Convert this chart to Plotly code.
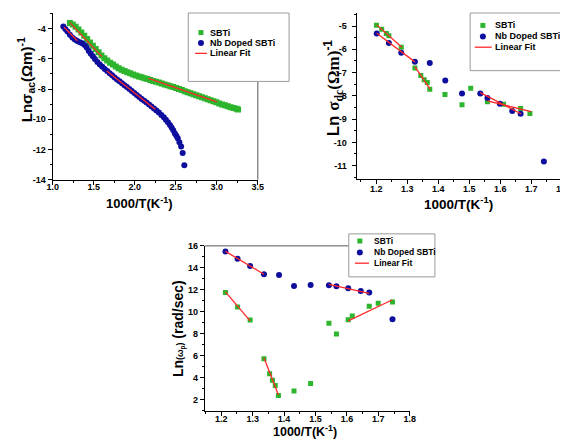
import plotly.graph_objects as go

W, H = 568, 440
FONT = "Liberation Sans"
GREEN = "#2db52d"
BLUE = "#0d0d9e"
RED = "#ff2a2a"

# ---------------- Top-left: ln sigma_ac vs 1000/T ----------------
ac_sbti_x = [1.21, 1.245, 1.28, 1.315, 1.35, 1.385, 1.42, 1.455, 1.49, 1.525, 1.56, 1.595,
             1.63, 1.665, 1.70, 1.735, 1.77, 1.805, 1.84, 1.875, 1.91, 1.945, 1.98, 2.015,
             2.05, 2.085, 2.12, 2.155, 2.19, 2.225, 2.26, 2.295, 2.33, 2.365, 2.40, 2.435,
             2.47, 2.505, 2.54, 2.575, 2.61, 2.645, 2.68, 2.715, 2.75, 2.785, 2.82, 2.855,
             2.89, 2.925, 2.96, 2.995, 3.03, 3.065, 3.10, 3.135, 3.17, 3.205, 3.24, 3.26]
ac_sbti_y = [-3.62, -3.72, -3.87, -4.05, -4.26, -4.47, -4.69, -4.91, -5.13, -5.35, -5.56, -5.77,
             -5.95, -6.11, -6.25, -6.38, -6.51, -6.62, -6.72, -6.81, -6.89, -6.96, -7.03, -7.10,
             -7.16, -7.22, -7.28, -7.34, -7.40, -7.46, -7.51, -7.57, -7.63, -7.69, -7.75, -7.81,
             -7.87, -7.93, -8.00, -8.07, -8.14, -8.21, -8.28, -8.35, -8.41, -8.48, -8.54, -8.61,
             -8.67, -8.74, -8.81, -8.88, -8.95, -9.02, -9.08, -9.14, -9.20, -9.26, -9.31, -9.35]
ac_nb_x = [1.13, 1.155, 1.18, 1.21, 1.24, 1.27, 1.30, 1.33, 1.36, 1.39, 1.415, 1.44, 1.465,
           1.49, 1.515, 1.545, 1.575, 1.605, 1.635, 1.665, 1.695, 1.725, 1.755, 1.785, 1.815,
           1.845, 1.875, 1.905, 1.935, 1.965, 1.995, 2.025, 2.055, 2.085, 2.115, 2.145, 2.175,
           2.205, 2.235, 2.265, 2.295, 2.325, 2.355, 2.38, 2.405, 2.43, 2.45, 2.47, 2.49,
           2.508, 2.525, 2.545, 2.566, 2.585, 2.605]
ac_nb_y = [-3.85, -4.02, -4.19, -4.40, -4.59, -4.72, -4.82, -4.89, -4.96, -5.08, -5.25, -5.47,
           -5.66, -5.83, -6.00, -6.20, -6.37, -6.52, -6.67, -6.81, -6.95, -7.09, -7.23, -7.36,
           -7.49, -7.62, -7.75, -7.87, -8.00, -8.13, -8.26, -8.40, -8.52, -8.65, -8.77, -8.89,
           -9.02, -9.15, -9.28, -9.42, -9.56, -9.71, -9.87, -10.03, -10.20, -10.38, -10.55,
           -10.73, -10.95, -11.10, -11.26, -11.52, -11.80, -12.23, -13.05]
ac_fit_x = [[1.21, 1.60], [2.17, 3.00], [1.14, 1.30], [1.66, 2.25]]
ac_fit_y = [[-3.60, -5.85], [-7.29, -8.85], [-3.90, -4.80], [-6.80, -9.33]]

# ---------------- Top-right: ln sigma_dc vs 1000/T ----------------
dc_sbti_x = [1.201, 1.218, 1.233, 1.241, 1.281, 1.325, 1.344, 1.355, 1.365, 1.373,
             1.422, 1.477, 1.505, 1.559, 1.611, 1.666, 1.696]
dc_sbti_y = [-4.97, -5.14, -5.32, -5.42, -5.91, -6.80, -7.13, -7.31, -7.43, -7.72,
             -7.94, -8.38, -7.67, -8.25, -8.36, -8.55, -8.76]
dc_nb_x = [1.202, 1.241, 1.281, 1.325, 1.373, 1.423, 1.477, 1.536, 1.559, 1.599, 1.639, 1.666, 1.741]
dc_nb_y = [-5.32, -5.73, -6.15, -6.54, -6.59, -7.34, -7.90, -7.90, -8.09, -8.34, -8.65, -8.77, -10.82]
dc_fit_x = [[1.202, 1.283], [1.202, 1.325], [1.325, 1.374], [1.536, 1.668], [1.559, 1.700]]
dc_fit_y = [[-4.95, -5.91], [-5.31, -6.54], [-6.75, -7.71], [-7.86, -8.78], [-8.22, -8.68]]

# ---------------- Bottom: ln(omega_p) vs 1000/T ----------------
wp_sbti_x = [1.2135, 1.252, 1.292, 1.336, 1.354, 1.363, 1.372, 1.382, 1.4316, 1.4845,
             1.5427, 1.5666, 1.604, 1.617, 1.671, 1.6995, 1.745]
wp_sbti_y = [11.76, 10.45, 9.26, 5.73, 4.37, 3.77, 3.30, 2.38, 2.80, 3.48,
             8.97, 7.99, 9.29, 9.62, 10.51, 10.78, 10.90]
wp_nb_x = [1.2135, 1.252, 1.292, 1.336, 1.384, 1.4316, 1.4845, 1.5427, 1.5666, 1.604, 1.644, 1.671, 1.745]
wp_nb_y = [15.50, 14.84, 14.16, 13.42, 13.36, 12.35, 12.44, 12.41, 12.32, 12.14, 11.90, 11.76, 9.32]
wp_fit_x = [[1.2135, 1.336], [1.5427, 1.671], [1.2135, 1.292], [1.336, 1.382], [1.604, 1.745]]
wp_fit_y = [[15.50, 13.42], [12.50, 11.68], [11.82, 9.18], [5.82, 2.44], [9.18, 11.10]]

# tick labels
ac_yticks = [-4, -6, -8, -10, -12, -14]
ac_xticks = [1.0, 1.5, 2.0, 2.5, 3.0, 3.5]
dc_yticks = [-5, -6, -7, -8, -9, -10, -11]
dc_xticks = [1.2, 1.3, 1.4, 1.5, 1.6, 1.7, 1.8]
wp_yticks = [2, 4, 6, 8, 10, 12, 14, 16]
wp_xticks = [1.2, 1.3, 1.4, 1.5, 1.6, 1.7, 1.8]

legend_labels = ["SBTi", "Nb Doped SBTi", "Linear Fit"]


def fx(p):
    return p / W


def fy(p):
    return 1 - p / H


def segs(xs, ys):
    ox, oy = [], []
    for a, b in zip(xs, ys):
        ox += a + [None]
        oy += b + [None]
    return ox, oy


fig = go.Figure()

panels = [
    (ac_sbti_x, ac_sbti_y, ac_nb_x, ac_nb_y, ac_fit_x, ac_fit_y, "x", "y", 6, 6),
    (dc_sbti_x, dc_sbti_y, dc_nb_x, dc_nb_y, dc_fit_x, dc_fit_y, "x2", "y2", 5, 6),
    (wp_sbti_x, wp_sbti_y, wp_nb_x, wp_nb_y, wp_fit_x, wp_fit_y, "x3", "y3", 5, 6),
]
for sx, sy, nx, ny, fxs, fys, xa, ya, ss, cs in panels:
    fig.add_trace(go.Scatter(x=sx, y=sy, mode="markers", xaxis=xa, yaxis=ya, showlegend=False,
                             marker=dict(symbol="square", size=ss, color=GREEN, line=dict(width=0))))
    fig.add_trace(go.Scatter(x=nx, y=ny, mode="markers", xaxis=xa, yaxis=ya, showlegend=False,
                             marker=dict(symbol="circle", size=cs, color=BLUE, line=dict(width=0))))
    lx, ly = segs(fxs, fys)
    fig.add_trace(go.Scatter(x=lx, y=ly, mode="lines", xaxis=xa, yaxis=ya, showlegend=False,
                             line=dict(color=RED, width=1.3)))

tickfont = dict(family=FONT, size=9, color="black", weight="bold")


def xax(domain, rng, ticks, minor_dtick, fmt, standoff):
    return dict(domain=domain, range=rng, showline=True, linecolor="black", linewidth=1,
                ticks="outside", ticklen=4, tickcolor="black", tickmode="array",
                tickvals=ticks, ticktext=[fmt.format(t) for t in ticks],
                ticklabelstandoff=standoff,
                minor=dict(ticks="outside", ticklen=2, tickcolor="black", tickmode="linear",
                           tick0=ticks[0], dtick=minor_dtick),
                showgrid=False, zeroline=False, tickfont=tickfont, fixedrange=True)


def yax(domain, rng, ticks, minor_dtick, anchor, standoff=0):
    d = xax(domain, rng, ticks, minor_dtick, "{:d}", standoff)
    d["anchor"] = anchor
    return d


fig.update_layout(
    width=W, height=H, margin=dict(l=0, r=0, t=0, b=0),
    paper_bgcolor="white", plot_bgcolor="white", showlegend=False,
    xaxis=xax([fx(39.5), fx(249)], [1.0, 3.5], ac_xticks, 0.25, "{:.1f}", -5) | dict(anchor="y"),
    yaxis=yax([fy(170.5), 1.0], [-14, -2.96], ac_yticks, 1, "x"),
    xaxis2=xax([fx(350), fx(560)], [1.137, 1.8], dc_xticks, 0.05, "{:.1f}", -2) | dict(anchor="y2"),
    yaxis2=yax([fy(169.5), 1.0], [-11.56, -4.44], dc_yticks, 0.5, "x2", 3),
    xaxis3=xax([fx(195), fx(404.3)], [1.148, 1.8], wp_xticks, 0.05, "{:.1f}", -5) | dict(anchor="y3"),
    yaxis3=yax([fy(407), fy(238.3)], [1.0, 16], wp_yticks, 1, "x3"),
)

shapes = []
annots = []
GRAY = "#8c8c8c"
# frame lines (right / top borders)
shapes.append(dict(type="line", xref="paper", yref="paper", x0=fx(249), x1=fx(249), y0=fy(170.5), y1=1,
                   line=dict(color=GRAY, width=1.5)))
shapes.append(dict(type="line", xref="paper", yref="paper", x0=fx(560), x1=fx(560), y0=fy(169.5), y1=1,
                   line=dict(color=GRAY, width=1.5)))
shapes.append(dict(type="line", xref="paper", yref="paper", x0=fx(195), x1=fx(404.3), y0=fy(238.3), y1=fy(238.3),
                   line=dict(color="#555555", width=1)))


def legend(box, mx, rows, line_x, tx, size):
    x0, y0, x1, y1 = box
    shapes.append(dict(type="rect", xref="paper", yref="paper", x0=fx(x0), x1=fx(x1), y0=fy(y1), y1=fy(y0),
                       line=dict(color="#9a9a9a", width=1), fillcolor="white", layer="above"))
    r1, r2, r3 = rows
    shapes.append(dict(type="rect", xref="paper", yref="paper", xsizemode="pixel", ysizemode="pixel",
                       xanchor=fx(mx), yanchor=fy(r1), x0=-2.5, x1=2.5, y0=-2.5, y1=2.5,
                       line=dict(width=0), fillcolor=GREEN))
    shapes.append(dict(type="circle", xref="paper", yref="paper", xsizemode="pixel", ysizemode="pixel",
                       xanchor=fx(mx), yanchor=fy(r2), x0=-3, x1=3, y0=-3, y1=3,
                       line=dict(width=0), fillcolor=BLUE))
    shapes.append(dict(type="line", xref="paper", yref="paper", x0=fx(line_x[0]), x1=fx(line_x[1]),
                       y0=fy(r3), y1=fy(r3), line=dict(color=RED, width=1.3)))
    for lab, r in zip(legend_labels, rows):
        annots.append(dict(text=lab, xref="paper", yref="paper", x=fx(tx), y=fy(r), xanchor="left",
                           yanchor="middle", showarrow=False,
                           font=dict(family=FONT, size=size, color="black", weight="bold")))


legend((178, 0, 281, 70), 191, (20, 30.7, 41.3), (185, 197), 198, 9)
legend((466, 0, 560, 59), 479, (12.7, 24, 35), (470.7, 488), 489.5, 9)
legend((342, 226, 430, 270), 353.3, (233.3, 245, 256), (348.3, 362.7), 366, 8.5)


def title(text, x, y, size, angle=0):
    annots.append(dict(text=text, xref="paper", yref="paper", x=fx(x), y=fy(y), xanchor="center",
                       yanchor="middle", showarrow=False, textangle=angle,
                       font=dict(family=FONT, size=size, color="black", weight="bold")))


SERIF = "<span style='font-family:Liberation Serif'>{}</span>"
xt = "1000/T(K<sup>-1</sup>)"
title(xt, 128, 194, 13)
title(xt, 454, 194, 13.5)
title(xt, 297, 428, 12.5)
title("Lnσ<sub>ac</sub>(Ωm)<sup>-1</sup>", 12, 68, 15, -90)
title("Ln " + SERIF.format("σ") + "<sub>" + SERIF.format("dc") + "</sub>" + SERIF.format("(Ωm)")
      + "<sup>-1</sup>", 326, 77, 17, -90)
title("Ln<span style='font-size:9px'>(ω<sub>p</sub>)</span> (rad/sec)", 168, 323, 14, -90)

fig.update_layout(shapes=shapes, annotations=annots)
fig.write_html("out.html")
